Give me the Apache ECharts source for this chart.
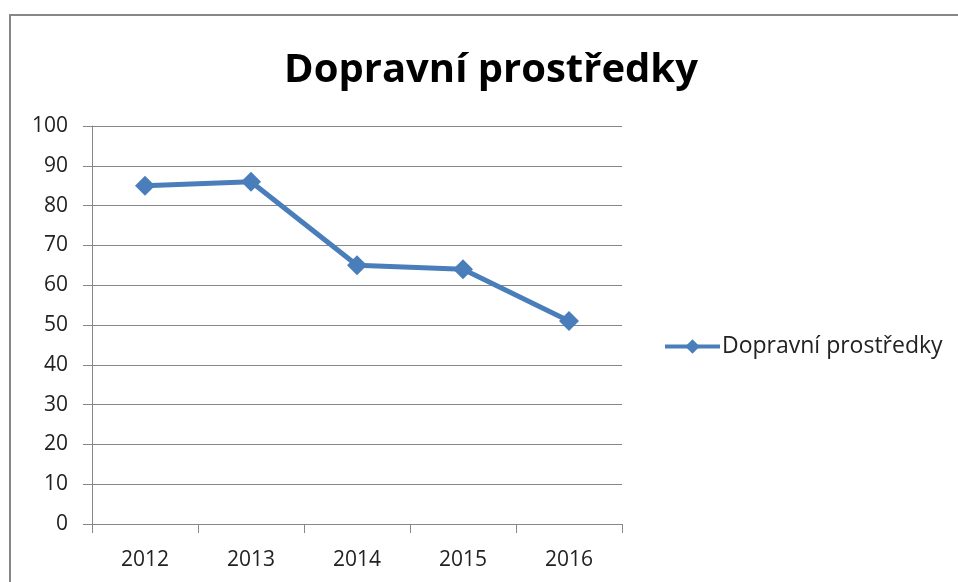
<!DOCTYPE html>
<html>
<head>
<meta charset="utf-8">
<script src="https://cdn.jsdelivr.net/npm/echarts@6/dist/echarts.min.js"></script>
<style>
  html, body { margin: 0; padding: 0; background: #fff; }
  #chart { width: 958px; height: 582px; }
</style>
</head>
<body>
<div id="chart"></div>
<script>
var years = ['2012', '2013', '2014', '2015', '2016'];
var values = [85, 86, 65, 64, 51];
var seriesName = 'Dopravní prostředky';

var chart = echarts.init(document.getElementById('chart'));
var fontFam = '"Open Sans", Lato, sans-serif';

var option = {
    animation: false,
    title: {
        text: 'Dopravní prostředky',
        left: 486,
        textAlign: 'center',
        top: 46,
        textStyle: {
            fontFamily: fontFam,
            fontWeight: 'bold',
            fontSize: 40,
            color: '#000'
        }
    },
    graphic: [{
        type: 'rect',
        shape: { x: 10, y: 15, width: 960, height: 600 },
        style: { fill: 'none', stroke: '#878787', lineWidth: 2 },
        silent: true
    }],
    legend: {
        data: [seriesName],
        left: 663,
        top: 335,
        padding: 0,
        itemWidth: 55,
        itemHeight: 18,
        itemGap: 2,
        lineStyle: { width: 4 },
        textStyle: { fontFamily: fontFam, fontSize: 23, color: '#222', padding: [0, 0, 0, -3] }
    },
    grid: {
        left: 92,
        right: 336,
        top: 126,
        bottom: 58,
        containLabel: false
    },
    xAxis: {
        type: 'category',
        data: years,
        boundaryGap: true,
        axisLine: { lineStyle: { color: '#878787', width: 1 } },
        axisTick: { show: true, length: 9, inside: false, lineStyle: { color: '#878787' } },
        axisLabel: { margin: 26, fontFamily: fontFam, fontSize: 21, color: '#222' },
        splitLine: { show: false }
    },
    yAxis: {
        type: 'value',
        min: 0,
        max: 100,
        interval: 10,
        axisLine: { show: true, lineStyle: { color: '#878787', width: 1 } },
        axisTick: { show: true, length: 9, lineStyle: { color: '#878787' } },
        axisLabel: { margin: 24, fontFamily: fontFam, fontSize: 21, color: '#222' },
        splitLine: { show: true, lineStyle: { color: '#878787', width: 1 } }
    },
    series: [{
        name: seriesName,
        type: 'line',
        data: values,
        symbol: 'diamond',
        symbolSize: 20,
        lineStyle: { color: '#4A7EBB', width: 5 },
        itemStyle: { color: '#4A7EBB' }
    }]
};

chart.setOption(option);
</script>
</body>
</html>
